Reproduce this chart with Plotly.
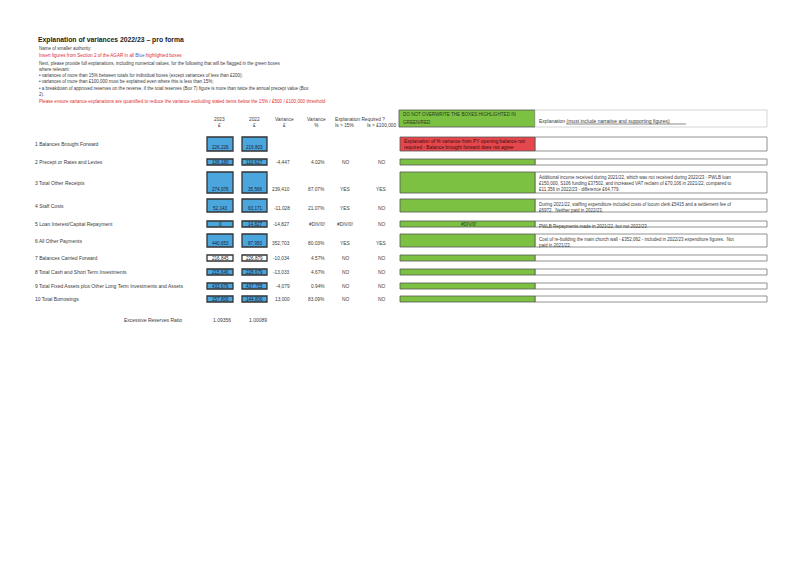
import plotly.graph_objects as go

# ---------------- data ----------------
row_labels = [
    "1 Balances Brought Forward",
    "2 Precept or Rates and Levies",
    "3 Total Other Receipts",
    "4 Staff Costs",
    "5 Loan Interest/Capital Repayment",
    "6 All Other Payments",
    "7 Balances Carried Forward",
    "8 Total Cash and Short Term Investments",
    "9 Total Fixed Assets plus Other Long Term Investments and Assets",
    "10 Total Borrowings",
]
values_2023 = ["226,226", "106,180", "274,976", "52,143", "0", "440,653", "216,845", "215,646", "433,676", "157,806"]
values_2022 = ["219,803", "110,627", "35,566", "63,171", "14,827", "87,950", "226,879", "228,679", "437,755", "144,806"]
variance_gbp = ["", "-4,447", "239,410", "-11,028", "-14,827", "352,703", "-10,034", "-13,033", "-4,079", "13,000"]
variance_pct = ["", "4.02%", "87.07%", "21.07%", "#DIV/0!", "80.03%", "4.57%", "4.67%", "0.94%", "83.09%"]
flag_15pct = ["", "NO", "YES", "YES", "#DIV/0!", "YES", "NO", "NO", "NO", "NO"]
flag_100k = ["", "NO", "YES", "NO", "NO", "YES", "NO", "NO", "NO", "NO"]
flag_box_text = ["Explanation of % variance from PY opening balance not<br>required - Balance brought forward does not agree",
                 "", "", "", "#DIV/0!", "", "", "", "", ""]
explanations = [
    "",
    "",
    "Additional income received during 2021/22, which was not received during 2022/23 - PWLB loan<br>"
    "£150,000, S106 funding £37502, and increased VAT reclaim of £70,106 in 2021/22, compared to<br>"
    "£11,356 in 2022/23 - difference £64,779.",
    "During 2021/22, staffing expenditure included costs of locum clerk £5415 and a settlement fee of<br>"
    "£6972.  Neither paid in 2022/23.",
    "PWLB Repayments made in 2021/22, but not 2022/23",
    "Cost of re-building the main church wall - £352,062 - included in 2022/23 expenditure figures.  Not<br>"
    "paid in 2021/22.",
    "", "", "", "",
]
ratio_label = "Excessive Reserves Ratio"
ratio_values = ["1.09356", "1.00089"]

col_headers = [("2023<br>£", 219), ("2022<br>£", 254), ("Variance<br>£", 284), ("Variance<br>%", 316)]

# ---------------- layout geometry ----------------
row_top = [137, 159, 172, 199, 221, 234, 255, 269, 283, 296]
row_bot = [151, 165, 193, 212, 227, 247, 261, 275, 289, 302]

FONT = "Liberation Sans, Arial, sans-serif"
TXT = "#3a3a3a"
BLUE = "#4ba6de"
GREEN = "#7cc142"
RED = "#e5474c"

fig = go.Figure()
shapes = []
ann = []


def text(x, y, s, size=5, color=TXT, xanchor="left", yanchor="middle", align="left"):
    ann.append(dict(x=x, y=y, xref="x", yref="y", text=s, showarrow=False,
                    xanchor=xanchor, yanchor=yanchor, align=align,
                    font=dict(family=FONT, size=size, color=color)))


def rect(x0, y0, x1, y1, fill, line="#333333", width=1):
    shapes.append(dict(type="rect", xref="x", yref="y", x0=x0, y0=y0, x1=x1, y1=y1,
                       fillcolor=fill, line=dict(color=line, width=width), layer="below"))


# header text block
text(36, 40, "<b>Explanation of variances 2022/23 – pro forma</b>", size=6.8, color="#222")
text(37, 48.5, "Name of smaller authority:", size=4.5)
text(37, 55, 'Insert figures from Section 2 of the AGAR in all <span style="color:#2a6fd6">Blue</span> highlighted boxes',
     size=4.6, color="#e03030")
text(37, 63, "Next, please provide full explanations, including numerical values, for the following that will be flagged in the green boxes", size=4.5)
text(37, 69, "where relevant:", size=4.5)
text(37, 75.5, "• variances of more than 15% between totals for individual boxes (except variances of less than £200);", size=4.5)
text(37, 81.5, "• variances of more than £100,000 must be explained even where this is less than 15%;", size=4.5)
text(37, 88, "• a breakdown of approved reserves on the reverse, if the total reserves (Box 7) figure is more than twice the annual precept value (Box", size=4.5)
text(37, 94, "2).", size=4.5)
text(37, 101, "Please ensure variance explanations are quantified to reduce the variance excluding stated items below the 15% / £500 / £100,000 threshold",
     size=4.6, color="#e03030")

# column headers
for h, cx in col_headers:
    text(cx, 122, h, size=4.8, xanchor="center", align="center")
text(333, 119, "Explanation Required ?", size=4.8)
text(345, 125, "Is > 15%", size=4.8, xanchor="center")
text(382, 125, "Is > £100,000", size=4.8, xanchor="center")

# green header box + explanation header
rect(399, 110, 535, 127, GREEN, line="#555", width=0.8)
text(401, 114, "DO NOT OVERWRITE THE BOXES HIGHLIGHTED IN", size=4.6, color="#2a3a20")
text(401, 122, "GREEN/RED", size=4.6, color="#2a3a20")
rect(535, 110, 767, 127, "white", line="#bbbbbb", width=0.6)
text(537, 121, "Explanation (must include narrative and supporting figures)", size=5)
shapes.append(dict(type="line", xref="x", yref="y", x0=566, x1=686, y0=124, y1=124,
                   line=dict(color=TXT, width=0.6)))

# rows
for i, lab in enumerate(row_labels):
    t, b = row_top[i], row_bot[i]
    mid = (t + b) / 2
    vy = b - 3.2 if b - t > 9 else mid
    text(33, mid, lab, size=5)
    fill = "white" if i == 6 else BLUE
    rect(207, t, 233, b, fill, line="#333", width=1.3)
    rect(242, t, 267, b, fill, line="#333", width=1.3)
    text(220, vy, values_2023[i], size=4.6, color="#223", xanchor="center")
    text(254.5, vy, values_2022[i], size=4.6, color="#223", xanchor="center")
    text(292, vy, variance_gbp[i], size=4.8, xanchor="right")
    text(327, vy, variance_pct[i], size=4.8, xanchor="right")
    text(345, vy, flag_15pct[i], size=4.8, xanchor="center")
    text(381, vy, flag_100k[i], size=4.8, xanchor="center")
    # flag box (red for row 1, green otherwise) + explanation box
    rect(535, t, 767, b, "white", line="#777", width=0.8)
    rect(400, t, 535, b, RED if i == 0 else GREEN, line="#555", width=0.8)
    if flag_box_text[i]:
        if i == 0:
            text(402, mid, flag_box_text[i], size=4.9, color="#3a1010")
        else:
            text(468, mid, flag_box_text[i], size=4.6, color="#2a3a20", xanchor="center")
    if explanations[i]:
        text(537, t + 0.5, explanations[i], size=4.5, yanchor="top")

# excessive reserves ratio
text(122, 320, ratio_label, size=5)
text(222, 320, ratio_values[0], size=5, xanchor="center")
text(258, 320, ratio_values[1], size=5, xanchor="center")

# The page body has an 8px margin: shrink the figure by 8px and start the
# axis ranges at 8 so that data coordinates equal screen pixels.
fig.update_layout(
    width=792, height=557,
    margin=dict(l=0, r=0, t=0, b=0),
    paper_bgcolor="white", plot_bgcolor="white",
    xaxis=dict(range=[8, 800], visible=False, fixedrange=True),
    yaxis=dict(range=[565, 8], visible=False, fixedrange=True),
    shapes=shapes, annotations=ann, showlegend=False,
)
fig.write_html("out.html")
